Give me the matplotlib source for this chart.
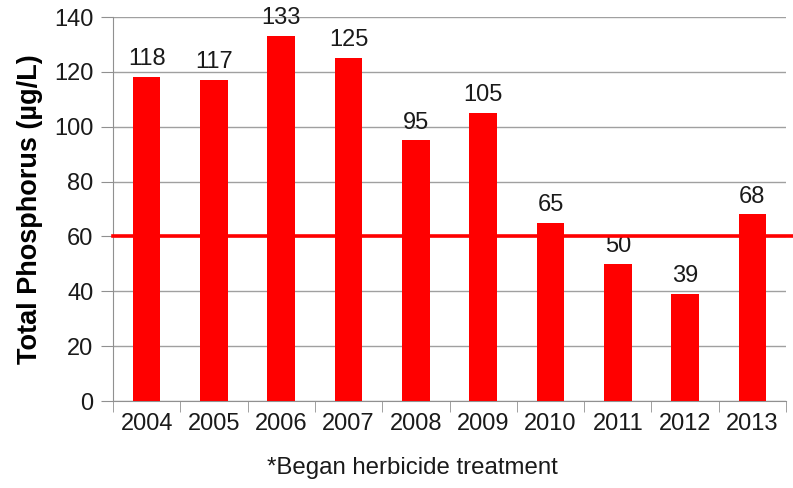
import matplotlib.pyplot as plt

plt.rcParams['font.family'] = ['Liberation Sans', 'DejaVu Sans']

years = ['2004', '2005', '2006', '2007', '2008', '2009', '2010', '2011', '2012', '2013']
phosphorus = [118, 117, 133, 125, 95, 105, 65, 50, 39, 68]
target = 60

fig = plt.figure(figsize=(7.93, 4.88), dpi=100)
ax = fig.add_axes([113 / 793, 1 - 401 / 488, (786 - 113) / 793, (401 - 17) / 488])

x = list(range(len(years)))
ax.bar(x, phosphorus, width=0.41, color='#ff0000', zorder=3)
for xi, v in zip(x, phosphorus):
    ax.text(xi, v + 2.5, str(v), ha='center', va='bottom', fontsize=17, color='#1a1a1a')

# target line runs past the plot to the picture edge
ax.axhline(target, xmin=0, xmax=(793 - 113) / (786 - 113), color='#ff0000', lw=2.6,
           clip_on=False, zorder=4)

ax.set_xlim(-0.5, len(years) - 0.5)
ax.set_ylim(0, 140)
ax.set_yticks(range(0, 141, 20))
ax.yaxis.grid(True, color='#a0a0a0', lw=1, zorder=0)
ax.set_xticks(x)
ax.set_xticklabels(years)
ax.set_xticks([i - 0.5 for i in range(len(years) + 1)], minor=True)
ax.tick_params(axis='x', which='major', length=0, pad=9, labelsize=17, labelcolor='#1a1a1a')
ax.tick_params(axis='x', which='minor', length=8, color='#909090', direction='out')
ax.tick_params(axis='y', length=9, color='#909090', labelsize=17, labelcolor='#1a1a1a', pad=5)

for s in ['top', 'right']:
    ax.spines[s].set_visible(False)
for s in ['left', 'bottom']:
    ax.spines[s].set_color('#909090')

ax.set_ylabel('Total Phosphorus (µg/L)', fontsize=19.5, fontweight='bold', labelpad=8)
fig.text(412 / 793, 1 - 468 / 488, '*Began herbicide treatment', ha='center', va='center',
         fontsize=17.3, color='#1a1a1a')

plt.savefig('out.png')
